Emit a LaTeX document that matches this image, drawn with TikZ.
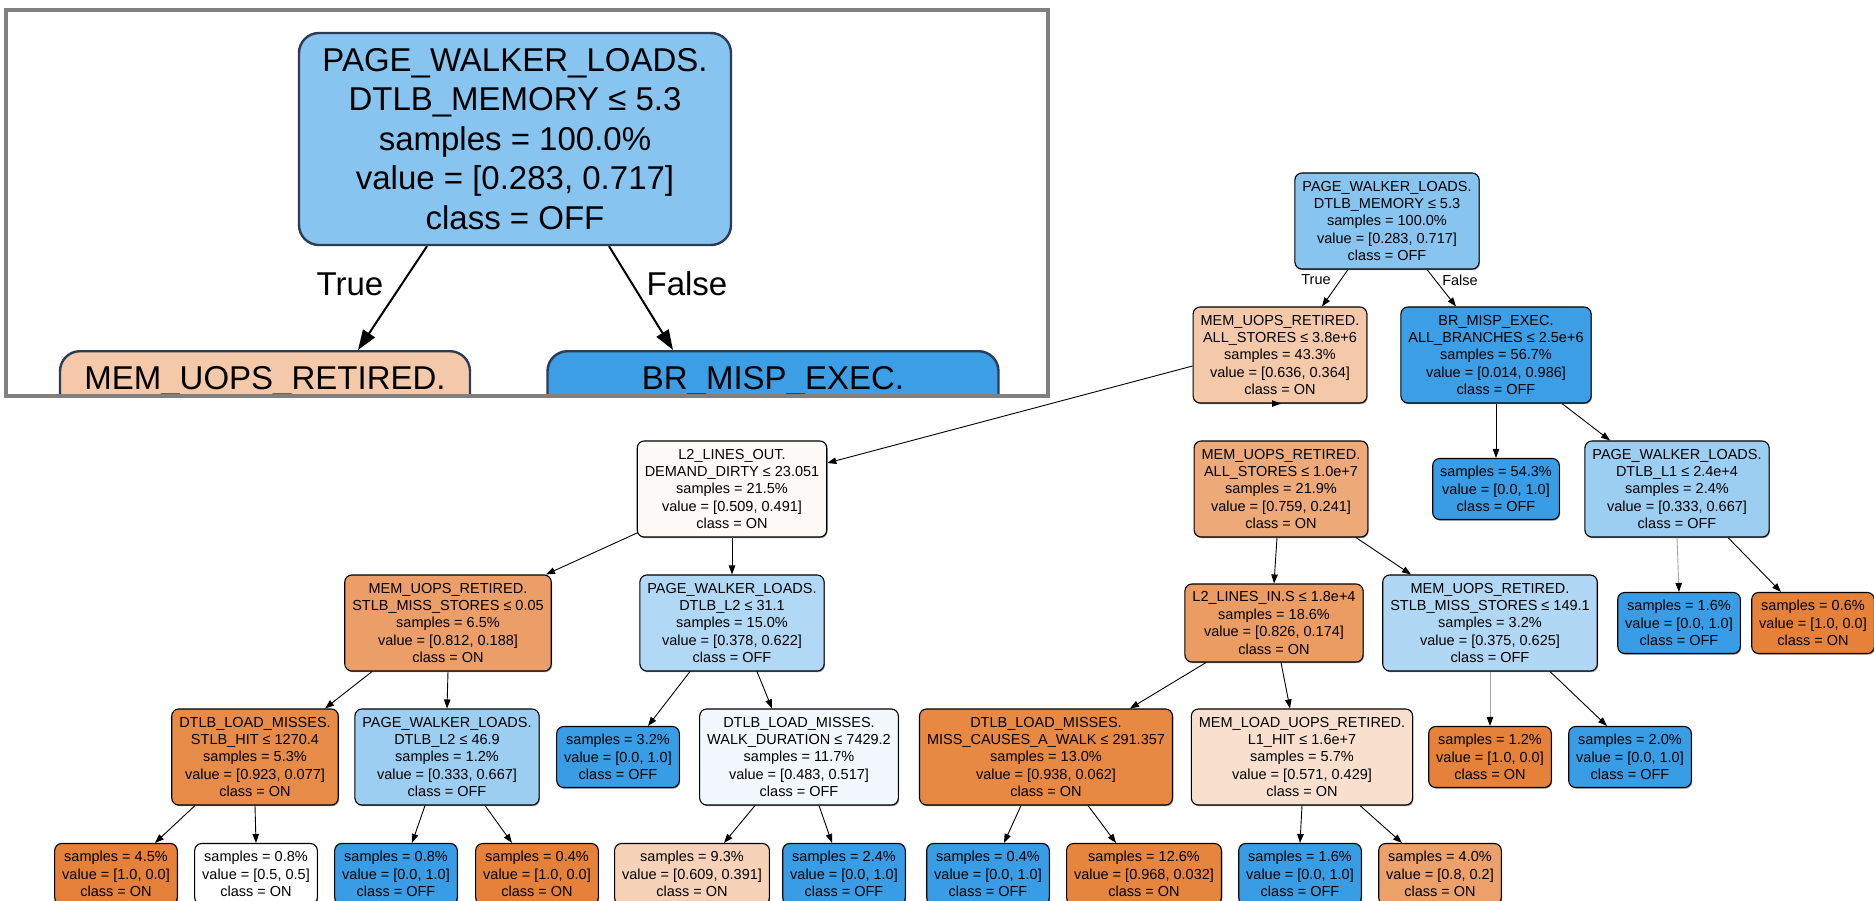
\documentclass[tikz,border=0pt]{standalone}
\usepackage{fontspec}
\setmainfont{Liberation Sans}
\usetikzlibrary{arrows.meta,shadows}

% class colours of the decision tree, mixed with white by purity
\definecolor{framegray}{RGB}{128,128,128}
\definecolor{bigedge}{RGB}{45,60,85}
\definecolor{cR0}{RGB}{135,196,239}
\definecolor{cA}{RGB}{244,201,170}
\definecolor{cB}{RGB}{60,158,229}
\definecolor{cC}{RGB}{254,250,248}
\definecolor{cD}{RGB}{237,169,120}
\definecolor{cF}{RGB}{156,206,242}
\definecolor{cG}{RGB}{235,158,103}
\definecolor{cH}{RGB}{177,217,245}
\definecolor{cI}{RGB}{234,156,99}
\definecolor{cJ}{RGB}{176,216,245}
\definecolor{cM}{RGB}{231,140,72}
\definecolor{cP}{RGB}{242,248,253}
\definecolor{cQ}{RGB}{231,137,66}
\definecolor{cT}{RGB}{249,224,206}
\definecolor{cS5}{RGB}{246,210,184}
\definecolor{cS8}{RGB}{230,133,62}
\definecolor{cS10}{RGB}{236,160,106}
\definecolor{onfull}{RGB}{229,129,57}
\definecolor{offfull}{RGB}{57,157,229}

\tikzset{
  tn/.style={rectangle, rounded corners=7pt, draw=black, line width=1.1pt,
    align=center, inner xsep=7.5pt, inner ysep=0pt, text=black,
    font=\fontsize{14.5}{17.4}\selectfont,
    drop shadow={shadow xshift=0.8pt, shadow yshift=-1.2pt, opacity=0.45, fill=black}},
  five/.style={tn, minimum height=96pt},
  four/.style={tn, minimum height=78pt},
  leaf/.style={tn, minimum height=61pt},
  link/.style={-{Triangle[length=9pt,width=6.5pt]}, line width=0.9pt, draw=black},
  palelink/.style={-{Triangle[length=9pt,width=6.5pt,color=black]}, line width=0.9pt, draw=black!35},
  elab/.style={font=\fontsize{14.5}{17.4}\selectfont, inner sep=0pt},
  bignode/.style={rectangle, rounded corners=20pt, draw=bigedge, line width=2.4pt,
    align=center, inner xsep=18pt, inner ysep=0pt, text=black,
    font=\fontsize{33}{39.6}\selectfont},
  biglink/.style={-{Triangle[length=20pt,width=14pt]}, line width=2pt, draw=black},
  biglab/.style={font=\fontsize{33}{39.6}\selectfont, inner sep=0pt},
}

\begin{document}
\begin{tikzpicture}[x=1pt,y=-1pt]
\useasboundingbox (0,0) rectangle (1874,901);
\fill[white] (0,0) rectangle (1874,901);
\clip (0,0) rectangle (1874,901);

% ---------------- full tree ----------------
% depth 0
\node[five, fill=cR0] (R0) at (1387,221) {PAGE\_WALKER\_LOADS.\\DTLB\_MEMORY ≤ 5.3\\samples = 100.0\%\\value = [0.283, 0.717]\\class = OFF};
% depth 1
\node[five, fill=cA] (A) at (1280,355) {MEM\_UOPS\_RETIRED.\\ALL\_STORES ≤ 3.8e+6\\samples = 43.3\%\\value = [0.636, 0.364]\\class = ON};
\node[five, fill=cB] (B) at (1496,355) {BR\_MISP\_EXEC.\\ALL\_BRANCHES ≤ 2.5e+6\\samples = 56.7\%\\value = [0.014, 0.986]\\class = OFF};
% depth 2
\node[five, fill=cC] (C) at (732,489) {L2\_LINES\_OUT.\\DEMAND\_DIRTY ≤ 23.051\\samples = 21.5\%\\value = [0.509, 0.491]\\class = ON};
\node[five, fill=cD] (D) at (1281,489) {MEM\_UOPS\_RETIRED.\\ALL\_STORES ≤ 1.0e+7\\samples = 21.9\%\\value = [0.759, 0.241]\\class = ON};
\node[leaf, fill=offfull] (E) at (1496,489) {samples = 54.3\%\\value = [0.0, 1.0]\\class = OFF};
\node[five, fill=cF] (F) at (1677,489) {PAGE\_WALKER\_LOADS.\\DTLB\_L1 ≤ 2.4e+4\\samples = 2.4\%\\value = [0.333, 0.667]\\class = OFF};
% depth 3
\node[five, fill=cG] (G) at (448,623) {MEM\_UOPS\_RETIRED.\\STLB\_MISS\_STORES ≤ 0.05\\samples = 6.5\%\\value = [0.812, 0.188]\\class = ON};
\node[five, fill=cH] (H) at (732,623) {PAGE\_WALKER\_LOADS.\\DTLB\_L2 ≤ 31.1\\samples = 15.0\%\\value = [0.378, 0.622]\\class = OFF};
\node[four, fill=cI] (I) at (1274,623) {L2\_LINES\_IN.S ≤ 1.8e+4\\samples = 18.6\%\\value = [0.826, 0.174]\\class = ON};
\node[five, fill=cJ] (J) at (1490,623) {MEM\_UOPS\_RETIRED.\\STLB\_MISS\_STORES ≤ 149.1\\samples = 3.2\%\\value = [0.375, 0.625]\\class = OFF};
\node[leaf, fill=offfull] (K) at (1679,623) {samples = 1.6\%\\value = [0.0, 1.0]\\class = OFF};
\node[leaf, fill=onfull] (L) at (1813,623) {samples = 0.6\%\\value = [1.0, 0.0]\\class = ON};
% depth 4
\node[five, fill=cM] (M) at (255,757) {DTLB\_LOAD\_MISSES.\\STLB\_HIT ≤ 1270.4\\samples = 5.3\%\\value = [0.923, 0.077]\\class = ON};
\node[five, fill=cF] (N) at (447,757) {PAGE\_WALKER\_LOADS.\\DTLB\_L2 ≤ 46.9\\samples = 1.2\%\\value = [0.333, 0.667]\\class = OFF};
\node[leaf, fill=offfull] (O) at (618,757) {samples = 3.2\%\\value = [0.0, 1.0]\\class = OFF};
\node[five, fill=cP] (P) at (799,757) {DTLB\_LOAD\_MISSES.\\WALK\_DURATION ≤ 7429.2\\samples = 11.7\%\\value = [0.483, 0.517]\\class = OFF};
\node[five, fill=cQ] (Q) at (1046,757) {DTLB\_LOAD\_MISSES.\\MISS\_CAUSES\_A\_WALK ≤ 291.357\\samples = 13.0\%\\value = [0.938, 0.062]\\class = ON};
\node[five, fill=cT] (T) at (1302,757) {MEM\_LOAD\_UOPS\_RETIRED.\\L1\_HIT ≤ 1.6e+7\\samples = 5.7\%\\value = [0.571, 0.429]\\class = ON};
\node[leaf, fill=onfull] (U) at (1490,757) {samples = 1.2\%\\value = [1.0, 0.0]\\class = ON};
\node[leaf, fill=offfull] (V) at (1630,757) {samples = 2.0\%\\value = [0.0, 1.0]\\class = OFF};
% depth 5
\node[leaf, fill=onfull] (S1) at (116,874) {samples = 4.5\%\\value = [1.0, 0.0]\\class = ON};
\node[leaf, fill=white] (S2) at (256,874) {samples = 0.8\%\\value = [0.5, 0.5]\\class = ON};
\node[leaf, fill=offfull] (S3) at (396,874) {samples = 0.8\%\\value = [0.0, 1.0]\\class = OFF};
\node[leaf, fill=onfull] (S4) at (537,874) {samples = 0.4\%\\value = [1.0, 0.0]\\class = ON};
\node[leaf, fill=cS5] (S5) at (692,874) {samples = 9.3\%\\value = [0.609, 0.391]\\class = ON};
\node[leaf, fill=offfull] (S6) at (844,874) {samples = 2.4\%\\value = [0.0, 1.0]\\class = OFF};
\node[leaf, fill=offfull] (S7) at (988,874) {samples = 0.4\%\\value = [0.0, 1.0]\\class = OFF};
\node[leaf, fill=cS8] (S8) at (1144,874) {samples = 12.6\%\\value = [0.968, 0.032]\\class = ON};
\node[leaf, fill=offfull] (S9) at (1300,874) {samples = 1.6\%\\value = [0.0, 1.0]\\class = OFF};
\node[leaf, fill=cS10] (S10) at (1440,874) {samples = 4.0\%\\value = [0.8, 0.2]\\class = ON};

% branch labels at the root
\node[elab] (lT) at (1316,280) {True};
\node[elab] (lF) at (1460,280) {False};

% edges
\draw[link] ([xshift=-39pt]R0.south) -- ([xshift=42pt]A.north);
\draw[link] ([xshift=40pt]R0.south) -- ([xshift=-40pt]B.north);
\draw[link] ([yshift=-11pt]A.west) -- ([yshift=26pt]C.east);
\draw[link] (A.south) -- (A.south -| D.north);
\draw[link] (B.south) -- (E.north);
\draw[link] ([xshift=66pt]B.south) -- ([xshift=-67pt]F.north);
\draw[link] ([xshift=-94pt,yshift=5pt]C.south) -- ([xshift=98pt]G.north);
\draw[link] (C.south) -- (H.north);
\draw[link] ([xshift=-4pt]D.south) -- (I.north);
\draw[link] ([xshift=75pt]D.south) -- ([xshift=-79pt]J.north);
\draw[palelink] (F.south) -- (K.north);
\draw[link] ([xshift=51pt]F.south) -- ([xshift=-32pt]L.north);
\draw[link] ([xshift=-76pt]G.south) -- ([xshift=70pt]M.north);
\draw[link] (G.south) -- (N.north);
\draw[link] ([xshift=-42pt]H.south) -- ([xshift=30pt]O.north);
\draw[link] ([xshift=25pt]H.south) -- ([xshift=-27pt]P.north);
\draw[link] ([xshift=-68pt]I.south) -- ([xshift=84pt]Q.north);
\draw[link] ([xshift=7pt]I.south) -- ([xshift=-12pt]T.north);
\draw[palelink] (J.south) -- (U.north);
\draw[link] ([xshift=60pt]J.south) -- ([xshift=-23pt]V.north);
\draw[link] ([xshift=-60pt]M.south) -- ([xshift=39pt]S1.north);
\draw[link] (M.south) -- (S2.north);
\draw[link] ([xshift=-22pt]N.south) -- ([xshift=16pt]S3.north);
\draw[link] ([xshift=38pt]N.south) -- ([xshift=-25pt]S4.north);
\draw[link] ([xshift=-44pt]P.south) -- ([xshift=32pt]S5.north);
\draw[link] ([xshift=20pt]P.south) -- ([xshift=-12pt]S6.north);
\draw[link] ([xshift=-25pt]Q.south) -- ([xshift=16pt]S7.north);
\draw[link] ([xshift=42pt]Q.south) -- ([xshift=-28pt]S8.north);
\draw[link] (T.south) -- (S9.north);
\draw[link] ([xshift=58pt]T.south) -- ([xshift=-38pt]S10.north);

% ---------------- enlarged view of the root ----------------
\begin{scope}
  \clip (8.5,12.5) rectangle (1045.5,393.5);
  \node[bignode, fill=cR0, minimum width=432pt, minimum height=212pt] (iR) at (515,139)
    {PAGE\_WALKER\_LOADS.\\DTLB\_MEMORY ≤ 5.3\\samples = 100.0\%\\value = [0.283, 0.717]\\class = OFF};
  \node[bignode, fill=cA, anchor=north, minimum width=410pt, inner ysep=8pt,
        text height=30pt, text depth=169pt] (iA) at (265,350) {MEM\_UOPS\_RETIRED.};
  \node[bignode, fill=cB, anchor=north, minimum width=451pt, inner ysep=8pt,
        text height=30pt, text depth=169pt] (iB) at (773,350) {BR\_MISP\_EXEC.};
  \node[biglab] (iT) at (350,284) {True};
  \node[biglab] (iF) at (687,284) {False};
  \draw[biglink] ([xshift=-88pt]iR.south) -- ([xshift=93pt]iA.north);
  \draw[biglink] ([xshift=94pt]iR.south) -- ([xshift=-100pt]iB.north);
\end{scope}
\draw[framegray, line width=4.5pt] (6,10) rectangle (1048,396);
\end{tikzpicture}
\end{document}
